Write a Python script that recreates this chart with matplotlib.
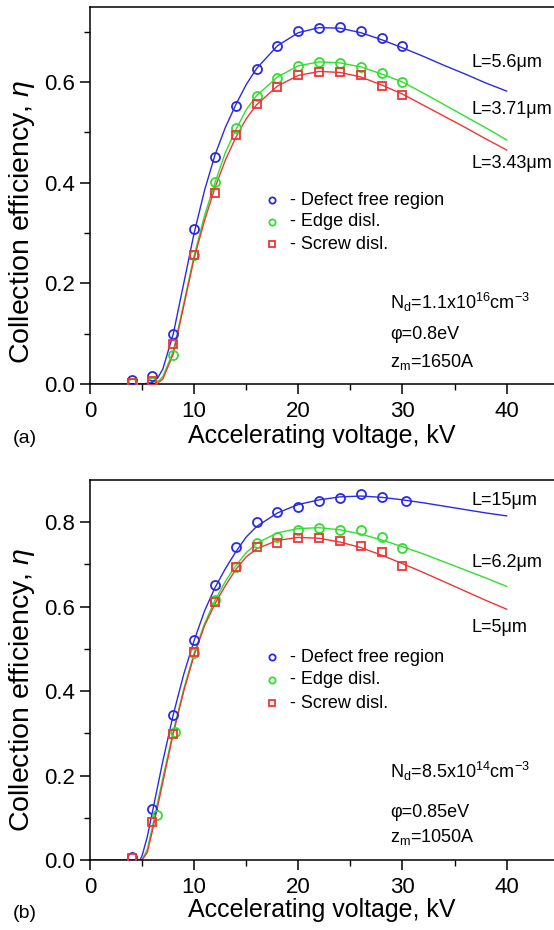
import matplotlib
matplotlib.use('Agg')
import matplotlib.pyplot as plt

plt.rcParams['font.family'] = ['Liberation Sans', 'DejaVu Sans']
plt.rcParams['mathtext.fontset'] = 'custom'
plt.rcParams['mathtext.rm'] = 'Liberation Sans'
plt.rcParams['mathtext.it'] = 'Liberation Sans:italic'

# ---- panel (a) measured points ----
va_pts = [4, 6, 8, 10, 12, 14, 16, 18, 20, 22, 24, 26, 28, 30]
a_free = [0.008, 0.015, 0.100, 0.308, 0.451, 0.552, 0.626, 0.672, 0.701, 0.708, 0.709, 0.701, 0.687, 0.671]
a_edge = [0.002, 0.004, 0.058, 0.256, 0.401, 0.508, 0.572, 0.608, 0.632, 0.640, 0.637, 0.629, 0.617, 0.600]
a_screw = [0.001, 0.005, 0.079, 0.256, 0.380, 0.495, 0.556, 0.590, 0.614, 0.620, 0.620, 0.614, 0.592, 0.574]

# ---- panel (a) model curves ----
va_fit = [0, 4, 5, 6, 6.5, 7, 8, 9, 10, 11, 12, 13, 14, 15, 16, 18, 20, 22, 24, 26, 28, 30, 32, 34, 36, 38, 40]
a_free_fit = [0, 0, 0, 0.003, 0.012, 0.030, 0.100, 0.200, 0.300, 0.385, 0.455, 0.510, 0.555, 0.595, 0.627,
              0.672, 0.698, 0.708, 0.707, 0.698, 0.684, 0.668, 0.651, 0.633, 0.616, 0.598, 0.582]
a_edge_fit = [0, 0, 0, 0, 0.004, 0.015, 0.065, 0.160, 0.255, 0.335, 0.400, 0.460, 0.505, 0.545, 0.573,
              0.610, 0.632, 0.640, 0.638, 0.630, 0.616, 0.600, 0.578, 0.555, 0.532, 0.509, 0.485]
a_screw_fit = [0, 0, 0, 0, 0.002, 0.010, 0.060, 0.155, 0.250, 0.325, 0.390, 0.445, 0.490, 0.527, 0.555,
               0.592, 0.613, 0.621, 0.619, 0.610, 0.594, 0.576, 0.554, 0.532, 0.510, 0.487, 0.465]

# ---- panel (b) measured points ----
vb_free = [4, 6, 8, 10, 12, 14, 16, 18, 20, 22, 24, 26, 28, 30.3]
b_free = [0.007, 0.121, 0.344, 0.520, 0.651, 0.741, 0.800, 0.824, 0.836, 0.850, 0.857, 0.867, 0.860, 0.850]
vb_edge = [6.4, 8.2, 10, 12, 14, 16, 18, 20, 22, 24, 26, 28, 30]
b_edge = [0.107, 0.304, 0.490, 0.615, 0.694, 0.751, 0.765, 0.781, 0.786, 0.781, 0.781, 0.765, 0.739]
vb_screw = [4, 6, 8, 10, 12, 14, 16, 18, 20, 22, 24, 26, 28, 30]
b_screw = [0.005, 0.090, 0.299, 0.492, 0.610, 0.694, 0.741, 0.751, 0.762, 0.762, 0.755, 0.743, 0.729, 0.696]

# ---- panel (b) model curves ----
vb_fit = [0, 4, 4.8, 5, 5.5, 6, 7, 8, 9, 10, 11, 12, 13, 14, 15, 16, 18, 20, 22, 24, 26, 28, 30, 32, 34, 36, 38, 40]
b_free_fit = [0, 0, 0, 0.010, 0.055, 0.115, 0.235, 0.345, 0.440, 0.520, 0.590, 0.645, 0.690, 0.730, 0.765, 0.790,
              0.822, 0.842, 0.853, 0.860, 0.862, 0.859, 0.853, 0.846, 0.838, 0.830, 0.822, 0.815]
b_edge_fit = [0, 0, 0, 0, 0.025, 0.080, 0.195, 0.305, 0.405, 0.490, 0.560, 0.615, 0.660, 0.697, 0.728, 0.750,
              0.775, 0.785, 0.787, 0.782, 0.772, 0.758, 0.742, 0.725, 0.706, 0.687, 0.668, 0.648]
b_screw_fit = [0, 0, 0, 0, 0.018, 0.070, 0.185, 0.300, 0.400, 0.485, 0.555, 0.607, 0.650, 0.688, 0.718, 0.737,
               0.757, 0.764, 0.762, 0.753, 0.740, 0.722, 0.702, 0.681, 0.659, 0.637, 0.615, 0.594]

legend_labels = ['- Defect free region', '- Edge disl.', '- Screw disl.']
a_L_labels = ['L=5.6\u03bcm', 'L=3.71\u03bcm', 'L=3.43\u03bcm']
b_L_labels = ['L=15\u03bcm', 'L=6.2\u03bcm', 'L=5\u03bcm']
a_params = ['N$_\\mathrm{d}$=1.1x10$^{16}$cm$^{-3}$', '\u03c6=0.8eV', 'z$_\\mathrm{m}$=1650A']
b_params = ['N$_\\mathrm{d}$=8.5x10$^{14}$cm$^{-3}$', '\u03c6=0.85eV', 'z$_\\mathrm{m}$=1050A']

BLUE = '#2a2ae6'
GREEN = '#2fe02f'
RED = '#ee3535'
colors = [BLUE, GREEN, RED]
markers = ['o', 'o', 's']

fig = plt.figure(figsize=(5.54, 9.30), dpi=100)
ax_a = fig.add_axes([90 / 554, 546 / 930, 464 / 554, 377 / 930])
ax_b = fig.add_axes([90 / 554, 70 / 930, 464 / 554, 380 / 930])


def style_axes(ax, ytop, yticks):
    ax.set_xlim(0, 44.55)
    ax.set_ylim(0, ytop)
    ax.set_xticks([0, 10, 20, 30, 40])
    ax.set_xticks([5, 15, 25, 35], minor=True)
    ax.set_yticks(yticks)
    ax.set_yticks([v + 0.1 for v in yticks if v + 0.1 < ytop], minor=True)
    ax.set_yticklabels([f'{v:.1f}' for v in yticks])
    ax.spines['right'].set_visible(False)
    for s in ax.spines.values():
        s.set_linewidth(1.1)
    ax.tick_params(which='major', direction='out', length=7, width=1.1, labelsize=16, pad=4)
    ax.tick_params(which='minor', direction='out', length=4, width=1.0)
    ax.tick_params(axis='x', which='major', pad=5)
    ax.set_xlabel('Accelerating voltage, kV', fontsize=18)
    ax.set_ylabel('Collection efficiency, $\\mathit{\\eta}$', fontsize=20.5)


def draw_panel(ax, fits, points, rows, L_labels, L_y, params, params_y):
    xfit, yfits = fits
    for yf, c in zip(yfits, colors):
        ax.plot(xfit, yf, '-', color=c, lw=1.0, zorder=2)
    for (xp, yp), c, m in zip(points, colors, markers):
        ax.plot(xp, yp, linestyle='none', marker=m, ms=6.5 if m == 'o' else 5.8,
                mfc='none', mec=c, mew=1.3, zorder=3)
    for lab, c, m, ry in zip(legend_labels, colors, markers, rows):
        ax.plot([0.392], [ry], transform=ax.transAxes, linestyle='none', marker=m,
                ms=4.5 if m == 'o' else 4.2, mfc='none', mec=c, mew=1.3, clip_on=False)
        ax.text(0.43, ry, lab, transform=ax.transAxes, fontsize=13, va='center', ha='left')
    for lab, ly in zip(L_labels, L_y):
        ax.text(0.823, ly, lab, transform=ax.transAxes, fontsize=13, va='center', ha='left')
    for lab, py in zip(params, params_y):
        ax.text(0.647, py, lab, transform=ax.transAxes, fontsize=13, va='center', ha='left')


style_axes(ax_a, 0.749, [0.0, 0.2, 0.4, 0.6])
draw_panel(ax_a, (va_fit, [a_free_fit, a_edge_fit, a_screw_fit]),
           [(va_pts, a_free), (va_pts, a_edge), (va_pts, a_screw)],
           [0.488, 0.430, 0.371], a_L_labels, [0.854, 0.727, 0.586],
           a_params, [0.215, 0.13, 0.058])
ax_a.xaxis.set_label_coords(0.5, -0.105)
ax_a.yaxis.set_label_coords(-0.115, 0.43)

style_axes(ax_b, 0.9, [0.0, 0.2, 0.4, 0.6, 0.8])
draw_panel(ax_b, (vb_fit, [b_free_fit, b_edge_fit, b_screw_fit]),
           [(vb_free, b_free), (vb_edge, b_edge), (vb_screw, b_screw)],
           [0.534, 0.474, 0.413], b_L_labels, [0.947, 0.782, 0.613],
           b_params, [0.234, 0.126, 0.061])
ax_b.xaxis.set_label_coords(0.5, -0.1)
ax_b.yaxis.set_label_coords(-0.115, 0.447)

fig.text(13 / 554, 1 - 438 / 930, '(a)', fontsize=14, va='center', ha='left')
fig.text(13 / 554, 1 - 913 / 930, '(b)', fontsize=14, va='center', ha='left')

fig.savefig('out.png', dpi=100)
